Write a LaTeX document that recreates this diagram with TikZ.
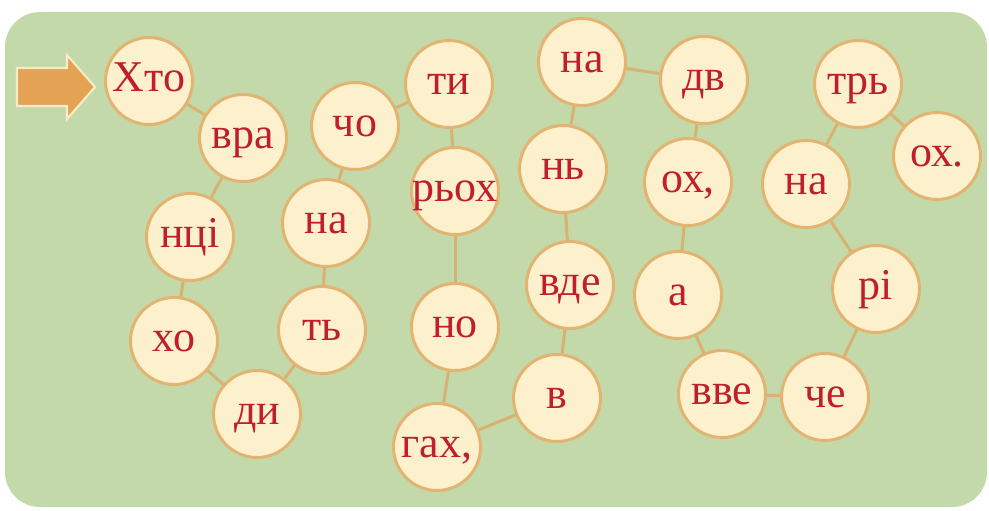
\documentclass[tikz,border=0pt]{standalone}
\usepackage{fontspec}
\setmainfont{Liberation Serif}
\usetikzlibrary{positioning}
\definecolor{bgGreen}{RGB}{196,217,169}
\definecolor{ballFill}{RGB}{253,241,205}
\definecolor{ballRing}{RGB}{226,180,114}
\definecolor{linkTan}{RGB}{216,178,114}
\definecolor{wordRed}{RGB}{192,30,45}
\definecolor{arrowOrange}{RGB}{228,162,84}
\definecolor{arrowRim}{RGB}{250,236,196}
\newcommand{\sy}[1]{\makebox[0pt]{#1}}
\tikzset{chain/.style={
  x=0.02cm, y=-0.02cm,
  ball/.style={circle, fill=ballFill, draw=ballRing, line width=1.7pt, minimum size=1.74cm, inner sep=0pt,
    text=wordRed, font=\fontsize{25}{30}\selectfont, text height=11.5pt, text depth=0pt},
  link/.style={draw=linkTan, line width=1.7pt},
  board/.style={fill=bgGreen, rounded corners=0.7cm},
}}

\begin{document}
\begin{tikzpicture}[chain]
\useasboundingbox (0,0) rectangle (989,510);

% ---- board ----
\fill[board] (5,12) rectangle (987,507);

% ---- start arrow ----
\filldraw[fill=arrowOrange, draw=arrowRim, line width=1.2pt]
  (17,68) -- (67,68) -- (67,55) -- (95,87) -- (67,119) -- (67,106) -- (17,106) -- cycle;

% ---- first loop ----
\node[ball] (hto)  at (149,81)  {\sy{Хто}};
\node[ball] (vra)  at (243,138) {\sy{вра}};
\node[ball] (ntsi) at (190,237) {\sy{нці}};
\node[ball] (kho)  at (174,341) {\sy{хо}};
\node[ball] (dy)   at (257,414) {\sy{ди}};
\node[ball] (t)    at (322,330) {\sy{ть}};
\node[ball] (na1)  at (326,223) {\sy{на}};
\node[ball] (cho)  at (355,126) {\sy{чо}};
\node[ball] (ty)   at (449,84)  {\sy{ти}};

% ---- middle ----
\node[ball] (rokh) at (455,191) {\sy{рьох}};
\node[ball] (no)   at (455,327) {\sy{но}};
\node[ball] (gakh) at (437,447) {\sy{гах,}};
\node[ball] (v)    at (557,398) {\sy{в}};
\node[ball] (vde)  at (570,285) {\sy{вде}};
\node[ball] (n)    at (563,169) {\sy{нь}};
\node[ball] (na2)  at (582,62)  {\sy{на}};

% ---- right part ----
\node[ball] (dv)   at (704,80)  {\sy{дв}};
\node[ball] (okh1) at (688,182) {\sy{ох,}};
\node[ball] (a)    at (678,295) {\sy{а}};
\node[ball] (vve)  at (722,394) {\sy{вве}};
\node[ball] (che)  at (825,397) {\sy{че}};
\node[ball] (ri)   at (876,289) {\sy{рі}};
\node[ball] (na3)  at (806,184) {\sy{на}};
\node[ball] (tr)   at (858,84)  {\sy{трь}};
\node[ball] (okh2) at (937,156) {\sy{ох.}};

% ---- links ----
\foreach \a/\b in {hto/vra, vra/ntsi, ntsi/kho, kho/dy, dy/t, t/na1, na1/cho, cho/ty,
                   ty/rokh, rokh/no, no/gakh, gakh/v, v/vde, vde/n, n/na2, na2/dv,
                   dv/okh1, okh1/a, a/vve, vve/che, che/ri, ri/na3, na3/tr, tr/okh2}
  \draw[link] (\a) -- (\b);

\end{tikzpicture}
\end{document}
